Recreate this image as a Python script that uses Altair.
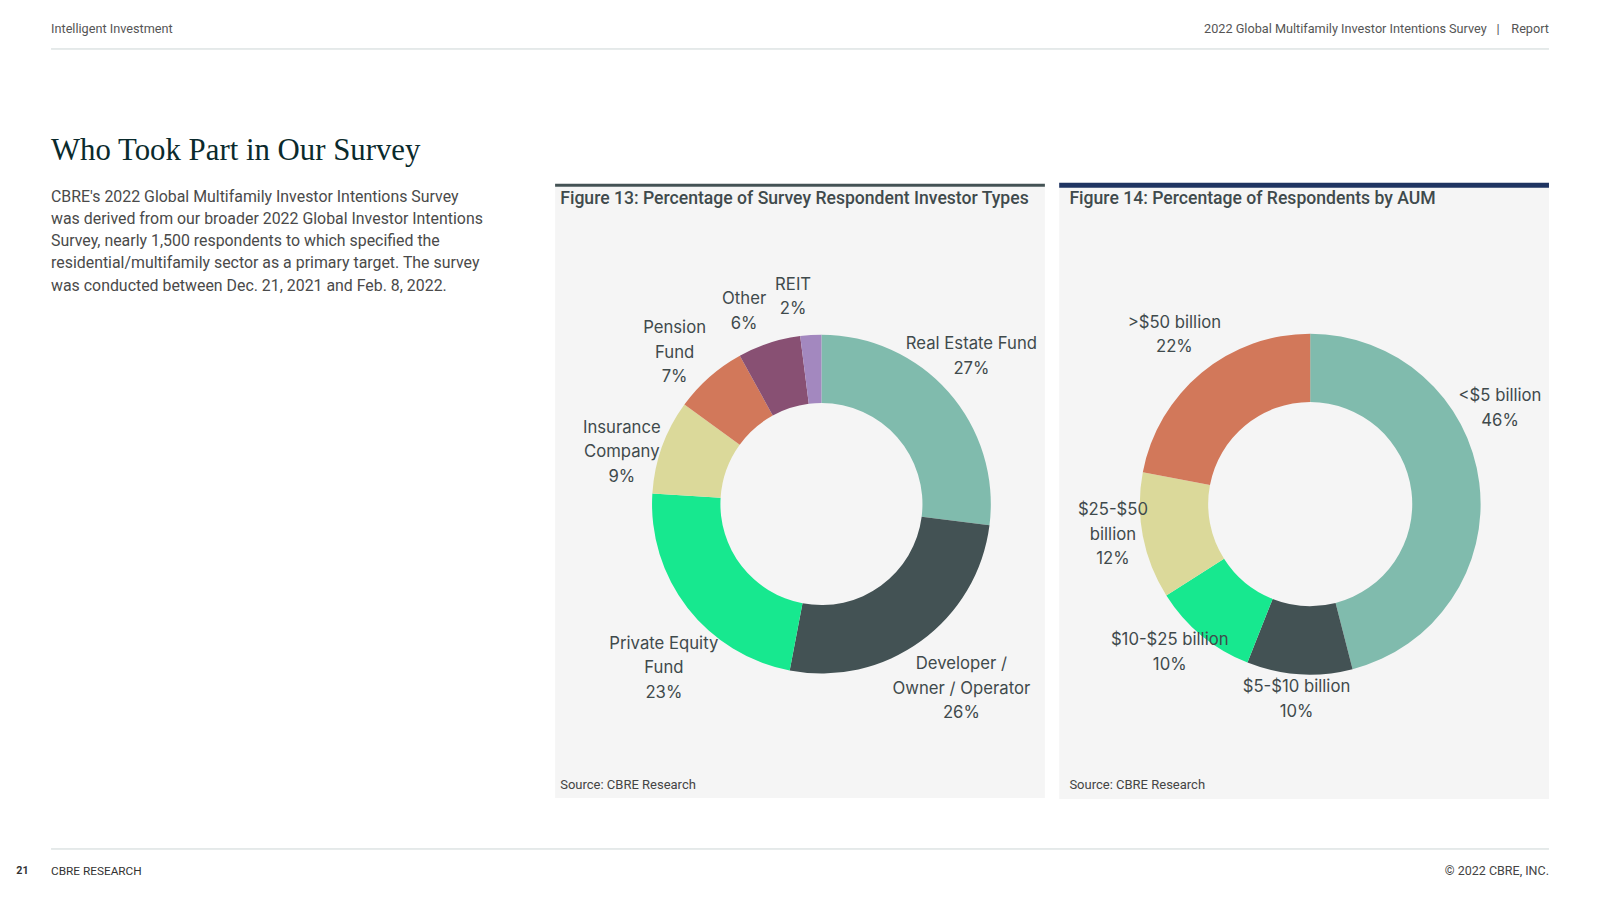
import math
import altair as alt
import pandas as pd

# ---------------- data ----------------
inv_types = ["Real Estate Fund", "Developer / Owner / Operator", "Private Equity Fund",
             "Insurance Company", "Pension Fund", "Other", "REIT"]
inv_values = [27, 26, 23, 9, 7, 6, 2]
inv_labels = ["Real Estate Fund\n27%", "Developer /\nOwner / Operator\n26%",
              "Private Equity\nFund\n23%", "Insurance\nCompany\n9%",
              "Pension\nFund\n7%", "Other\n6%", "REIT\n2%"]

aum_types = ["<$5 billion", "$5-$10 billion", "$10-$25 billion", "$25-$50 billion", ">$50 billion"]
aum_values = [46, 10, 10, 12, 22]
aum_labels = ["<$5 billion\n46%", "$5-$10 billion\n10%", "$10-$25 billion\n10%",
              "$25-$50\nbillion\n12%", ">$50 billion\n22%"]

body_lines = [
    "CBRE's 2022 Global Multifamily Investor Intentions Survey",
    "was derived from our broader 2022 Global Investor Intentions",
    "Survey, nearly 1,500 respondents to which specified the",
    "residential/multifamily sector as a primary target. The survey",
    "was conducted between Dec. 21, 2021 and Feb. 8, 2022.",
]

# ---------------- styles / layout ----------------
inv_colors = ["#80bbad", "#435254", "#17e88f", "#dbd99a", "#d2785a", "#885073", "#a388bf"]
aum_colors = ["#80bbad", "#435254", "#17e88f", "#dbd99a", "#d2785a"]
LABEL_COLOR = "#3f4a4c"
TEXT_GREY = "#4a4a4a"
PANEL_BG = "#f5f5f5"
M = 8                 # page margin
S = 1600 / 1568       # layout unit scale
LINE_H = 24           # label line height (layout units)
HALF_CHAR = 4.0       # half the average label glyph width (layout units)


def P(v):
    return v * S - M


def L(v):
    return v * S


one = alt.Data(values=[{"k": 1}])


def txt(x, y, s, size, color=TEXT_GREY, font="Roboto", weight="normal",
        align="left", baseline="middle", line_height=None):
    kw = dict(fontSize=size, color=color, font=font, fontWeight=weight,
              align=align, baseline=baseline, lineBreak="\n")
    if line_height is not None:
        kw["lineHeight"] = line_height
    return alt.Chart(one).mark_text(**kw).encode(
        x=alt.value(P(x)), y=alt.value(P(y)), text=alt.value(s))


def rect(x1, x2, y1, y2, color):
    return alt.Chart(one).mark_rect(color=color).encode(
        x=alt.value(P(x1)), x2=alt.value(P(x2)),
        y=alt.value(P(y1)), y2=alt.value(P(y2)))


def hrule(x1, x2, y, color, w=1):
    return alt.Chart(one).mark_rule(color=color, strokeWidth=w).encode(
        x=alt.value(P(x1)), x2=alt.value(P(x2)), y=alt.value(P(y)))


def donut(cats, vals, labels, colors, cx, cy, r_in, r_out, panel_x,
          r_lab, kh, kv, lab_dy, ang_off_deg):
    total = sum(vals)
    df = pd.DataFrame({"cat": cats, "value": vals, "label": labels,
                       "idx": list(range(len(cats))),
                       "nlines": [s.count("\n") + 1 for s in labels],
                       "maxchars": [max(len(t) for t in s.split("\n")) for s in labels]})
    tscale = alt.Scale(domain=[0, total], nice=False, zero=True)
    base = alt.Chart(df).transform_window(
        cum="sum(value)", sort=[alt.SortField("idx", order="ascending")], frame=[None, 0]
    ).transform_calculate(
        start="datum.cum - datum.value",
        mid="datum.cum - datum.value / 2",
    )
    arcs = base.mark_arc(innerRadius=L(r_in), outerRadius=L(r_out),
                         x=P(cx), y=P(cy)).encode(
        theta=alt.Theta("start:Q", scale=tscale),
        theta2=alt.Theta2("cum:Q"),
        color=alt.Color("cat:N", scale=alt.Scale(domain=cats, range=colors), legend=None),
    )
    off = math.radians(ang_off_deg)
    x_lo = -(cx - panel_x[0] - 4)
    x_hi = panel_x[1] - cx - 4
    rc = r_out - 8
    # label box placed just outside the ring, pushed outward by its own half size,
    # kept inside the panel (and slid round the ring when it had to be pulled in)
    labs = base.transform_calculate(
        a=f"datum.mid / {total} * 2 * PI + ({off})",
        hw=f"datum.maxchars * {HALF_CHAR}",
        hh=f"(datum.nlines - 1) * {LINE_H / 2} + 10",
    ).transform_calculate(
        px0=f"sin(datum.a) * ({r_lab} + {kh} * datum.hw)",
        pyc=f"-cos(datum.a) * ({r_lab} + {kv} * datum.hh) + ({lab_dy})",
    ).transform_calculate(
        px=f"clamp(datum.px0, {x_lo} + datum.hw, {x_hi} - datum.hw)",
    ).transform_calculate(
        pya=(f"abs(datum.px - datum.px0) > 0.5 ? "
             f"(datum.pyc < 0 ? -1 : 1) * max(abs(datum.pyc), "
             f"sqrt(max({rc * rc} - pow(abs(datum.px) - datum.hw, 2), 0)) + datum.hh)"
             f" : datum.pyc"),
    ).transform_calculate(
        py=f"datum.pya - (datum.nlines - 1) * {LINE_H / 2}",
    ).transform_calculate(
        rad=f"{S} * sqrt(datum.px * datum.px + datum.py * datum.py)",
        ang=f"atan2(datum.px, -datum.py) / (2 * PI) * {total}",
    ).mark_text(
        x=P(cx), y=P(cy), fontSize=16.7, font="Inter", color=LABEL_COLOR,
        lineBreak="\n", lineHeight=L(LINE_H), align="center", baseline="middle",
    ).encode(
        theta=alt.Theta("ang:Q", scale=tscale),
        radius=alt.Radius("rad:Q", scale=None),
        text="label:N",
    )
    return [arcs, labs]


PANEL1 = (544, 1024)
PANEL2 = (1038, 1518)

layers = [
    # header
    txt(50, 28, "Intelligent Investment", 12.7, color="#555555"),
    txt(1457, 28, "2022 Global Multifamily Investor Intentions Survey", 12.7,
        color="#555555", align="right"),
    txt(1468, 28, "|", 12.7, color="#555555", align="center"),
    txt(1518, 28, "Report", 12.7, color="#555555", align="right"),
    hrule(50, 1518, 48, "#cdd5d5"),
    # title + body
    txt(50, 157, "Who Took Part in Our Survey", 30.8, color="#0a2a2c",
        font="Liberation Serif", baseline="alphabetic"),
    txt(50, 198, "\n".join(body_lines), 15.9, color=TEXT_GREY,
        baseline="alphabetic", line_height=L(21.7)),
    # panels
    rect(PANEL1[0], PANEL1[1], 183, 782, PANEL_BG),
    rect(PANEL2[0], PANEL2[1], 183, 783, PANEL_BG),
    rect(PANEL1[0], PANEL1[1], 180, 183, "#435254"),
    rect(PANEL2[0], PANEL2[1], 179, 184, "#1e3461"),
    txt(549, 195, "Figure 13: Percentage of Survey Respondent Investor Types", 17.6,
        color=LABEL_COLOR, weight=500),
    txt(1048, 195, "Figure 14: Percentage of Respondents by AUM", 17.6,
        color=LABEL_COLOR, weight=500),
    txt(549, 769, "Source: CBRE Research", 13, color="#444444"),
    txt(1048, 769, "Source: CBRE Research", 13, color="#444444"),
    # footer
    hrule(50, 1518, 832, "#cdd5d5"),
    txt(16, 854, "21", 10.7, color="#333333", weight="bold"),
    txt(50, 854, "CBRE RESEARCH", 11.8, color="#333333"),
    txt(1518, 854, "\u00a9 2022 CBRE, INC.", 12.5, color="#444444", align="right"),
]
layers += donut(inv_types, inv_values, inv_labels, inv_colors, 805, 494, 99, 166, PANEL1,
                192, 0.3, 1.0, 9, -4.5)
layers += donut(aum_types, aum_values, aum_labels, aum_colors, 1284, 494, 100, 167, PANEL2,
                180, 0.6, 1.0, -10, 0)

chart = alt.layer(*layers).properties(
    width=1584, height=884, padding=0,
    autosize=alt.AutoSizeParams(type="none"),
    background="white",
).resolve_scale(theta="independent", color="independent").configure_view(stroke=None)

chart.save("out.html", embed_options={"renderer": "svg", "actions": False})
